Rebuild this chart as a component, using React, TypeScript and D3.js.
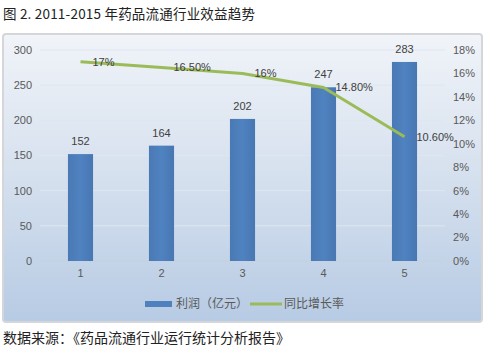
import React from "react";
import * as d3 from "d3";

const categories = ["1", "2", "3", "4", "5"];
const profit = [152, 164, 202, 247, 283];
const growth = [17, 16.5, 16, 14.8, 10.6];
const growthLabels = ["17%", "16.50%", "16%", "14.80%", "10.60%"];
const leftTicks = [0, 50, 100, 150, 200, 250, 300];
const rightTicks = [0, 2, 4, 6, 8, 10, 12, 14, 16, 18];
const title = "图 2. 2011-2015 年药品流通行业效益趋势";
const source = "数据来源：《药品流通行业运行统计分析报告》";
const legendNames = ["利润（亿元）", "同比增长率"];

const W = 485;
const H = 353;
const plot = { left: 40, right: 445, top: 50, bottom: 261 };
const font = "'Liberation Sans', Arial, sans-serif";
const cjk = "'Noto Sans CJK SC', sans-serif";
const textColor = "#595959";

export default function App() {
  const x = d3.scaleBand<string>().domain(categories).range([plot.left, plot.right]).paddingInner(0.69).paddingOuter(0.345);
  const yL = d3.scaleLinear().domain([0, 300]).range([plot.bottom, plot.top]);
  const yR = d3.scaleLinear().domain([0, 18]).range([plot.bottom, plot.top]);
  const cx = (c: string) => (x(c) as number) + x.bandwidth() / 2;
  const line = d3
    .line<number>()
    .x((_, i) => cx(categories[i]))
    .y((d) => yR(d));

  return (
    <svg width={W} height={H} style={{ position: "absolute", left: 0, top: 0, background: "#fff" }}>
      <defs>
        <linearGradient id="bg" x1="0" y1="0" x2="0" y2="1">
          <stop offset="0" stopColor="#f1f4f9" />
          <stop offset="0.5" stopColor="#d5e0ee" />
          <stop offset="1" stopColor="#b7cbe4" />
        </linearGradient>
        <linearGradient id="bar" x1="0" y1="0" x2="1" y2="0">
          <stop offset="0" stopColor="#4a7ab5" />
          <stop offset="0.5" stopColor="#4f82c0" />
          <stop offset="1" stopColor="#4877b2" />
        </linearGradient>
      </defs>
      <text x={3} y={19} fontFamily={cjk} fontSize={13.5} letterSpacing={0.2} fill="#222">{title}</text>
      <rect x={3} y={34} width={479} height={288} rx={3} fill="url(#bg)" stroke="#d4d6d9" strokeWidth={2} />
      {leftTicks.map((t) => (
        <g key={"l" + t}>
          <line x1={plot.left} x2={plot.right} y1={yL(t)} y2={yL(t)} stroke={t === 0 ? "#c6d0dc" : "#dfe6ef"} strokeWidth={1} />
          <text x={32} y={yL(t)} dy="0.35em" textAnchor="end" fontFamily={font} fontSize={11} fill={textColor}>{t}</text>
        </g>
      ))}
      {rightTicks.map((t) => (
        <text key={"r" + t} x={453} y={yR(t)} dy="0.35em" fontFamily={font} fontSize={11} fill={textColor}>{t}%</text>
      ))}
      {categories.map((c, i) => (
        <g key={"b" + c}>
          <rect x={x(c)} y={yL(profit[i])} width={x.bandwidth()} height={yL(0) - yL(profit[i])} fill="url(#bar)" />
          <text x={cx(c)} y={yL(profit[i]) - 9} textAnchor="middle" fontFamily={font} fontSize={11} fill="#404040">{profit[i]}</text>
          <text x={cx(c)} y={277} textAnchor="middle" fontFamily={font} fontSize={11} fill={textColor}>{c}</text>
        </g>
      ))}
      <path d={line(growth) || ""} fill="none" stroke="#9bbb59" strokeWidth={3} strokeLinejoin="round" />
      {categories.map((c, i) => (
        <text key={"g" + c} x={cx(c) + 12} y={yR(growth[i])} dy="0.35em" fontFamily={font} fontSize={11} fill="#404040">{growthLabels[i]}</text>
      ))}
      <rect x={145} y={301} width={27} height={6} fill="#4f81bd" />
      <text x={176} y={304} dy="0.35em" fontFamily={cjk} fontSize={12} fill={textColor}>{legendNames[0]}</text>
      <line x1={250} x2={282} y1={304} y2={304} stroke="#9bbb59" strokeWidth={3} />
      <text x={284} y={304} dy="0.35em" fontFamily={cjk} fontSize={12} fill={textColor}>{legendNames[1]}</text>
      <text x={3} y={343} fontFamily={cjk} fontSize={14} fill="#222">{source}</text>
    </svg>
  );
}
